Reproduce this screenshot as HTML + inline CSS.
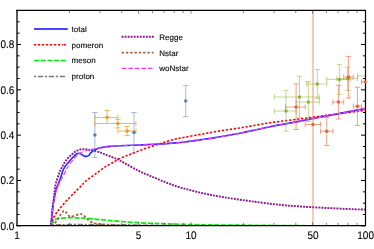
<!DOCTYPE html>
<html><head><meta charset="utf-8"><title>plot</title>
<style>
html,body{margin:0;padding:0;background:#fff;}
body{width:374px;height:249px;overflow:hidden;position:relative;font-family:"Liberation Sans",sans-serif;}
svg text{font-family:"Liberation Sans",sans-serif;text-rendering:geometricPrecision;}
</style></head><body>
<svg width="374" height="249" viewBox="0 0 374 249" style="position:absolute;left:0;top:0">
<defs><filter id="gs" x="-5%" y="-20%" width="110%" height="140%" color-interpolation-filters="sRGB"><feColorMatrix type="matrix" values="0.333 0.334 0.333 0 0 0.333 0.334 0.333 0 0 0.333 0.334 0.333 0 0 0 0 0 1 0"/></filter><clipPath id="cp"><rect x="16.90" y="10.45" width="349.50" height="215.65"/></clipPath></defs>
<rect width="374" height="249" fill="#fff"/>
<g clip-path="url(#cp)" fill="none" stroke-linecap="butt" stroke-linejoin="round">
<path d="M50.90 225.30 C51.05 224.97 51.25 224.75 51.80 223.30 C52.35 221.85 53.17 218.68 54.20 216.60 C55.23 214.52 56.87 212.38 58.00 210.80 C59.13 209.22 59.46 208.92 61.00 207.10 C62.54 205.28 65.08 202.23 67.25 199.90 C69.42 197.57 72.26 194.85 74.00 193.10 C75.74 191.35 76.42 190.68 77.70 189.40 C78.98 188.12 80.53 186.65 81.70 185.40 C82.87 184.15 83.40 183.10 84.70 181.90 C86.00 180.70 87.88 179.38 89.50 178.20 C91.12 177.02 92.82 175.95 94.40 174.80 C95.98 173.65 97.40 172.50 99.00 171.30 C100.60 170.10 102.33 168.72 104.00 167.60 C105.67 166.48 107.33 165.56 109.00 164.60 C110.67 163.64 112.30 162.82 114.00 161.85 C115.70 160.88 117.20 159.79 119.20 158.80 C121.20 157.81 124.20 156.63 126.00 155.90 C127.80 155.17 127.33 155.43 130.00 154.40 C132.67 153.37 137.18 151.43 142.00 149.70 C146.82 147.97 153.42 145.75 158.90 144.00 C164.38 142.25 170.55 140.33 174.90 139.20 C179.25 138.07 180.15 138.12 185.00 137.20 C189.85 136.28 199.00 134.62 204.00 133.70 C209.00 132.78 210.98 132.37 215.00 131.70 C219.02 131.03 223.93 130.33 228.10 129.70 C232.27 129.07 235.98 128.55 240.00 127.90 C244.02 127.25 247.20 126.65 252.20 125.80 C257.20 124.95 262.03 123.95 270.00 122.80 C277.97 121.65 290.33 120.17 300.00 118.90 C309.67 117.63 317.17 116.63 328.00 115.20 C338.83 113.77 358.83 111.12 365.00 110.30" stroke="#ff0000" stroke-width="1.60" stroke-dasharray="2.3 1.7"/>
<path d="M51.00 225.50 C51.13 225.30 51.27 225.15 51.80 224.30 C52.33 223.45 53.40 221.28 54.20 220.40 C55.00 219.52 55.57 219.35 56.60 219.00 C57.63 218.65 59.00 218.48 60.40 218.30 C61.80 218.12 63.40 218.00 65.00 217.90 C66.60 217.80 68.17 217.72 70.00 217.70 C71.83 217.68 74.00 217.75 76.00 217.80 C78.00 217.85 79.83 217.87 82.00 218.00 C84.17 218.13 85.30 218.27 89.00 218.60 C92.70 218.93 100.70 219.67 104.20 220.00 C107.70 220.33 107.37 220.37 110.00 220.60 C112.63 220.83 116.00 221.10 120.00 221.40 C124.00 221.70 127.67 222.03 134.00 222.40 C140.33 222.77 150.00 223.28 158.00 223.60 C166.00 223.92 175.00 224.10 182.00 224.30 C189.00 224.50 188.67 224.63 200.00 224.80 C211.33 224.97 233.33 225.15 250.00 225.30 C266.67 225.45 280.83 225.58 300.00 225.70 C319.17 225.82 354.17 225.95 365.00 226.00" stroke="#00ee00" stroke-width="1.70" stroke-dasharray="5.0 1.68"/>
<path d="M52.00 225.10 C55.00 225.02 62.00 224.70 70.00 224.60 C78.00 224.50 90.00 224.45 100.00 224.50 C110.00 224.55 116.67 224.72 130.00 224.90 C143.33 225.08 140.83 225.42 180.00 225.60 C219.17 225.78 334.17 225.93 365.00 226.00" stroke="#7a7a7a" stroke-width="1.50" stroke-dasharray="2.2 1.7 5.3 1.7"/>
<path d="M51.50 225.60 C51.95 225.30 53.20 224.82 54.20 223.80 C55.20 222.78 56.47 220.95 57.50 219.50 C58.53 218.05 59.43 216.47 60.40 215.10 C61.37 213.73 62.63 212.02 63.30 211.30 C63.97 210.58 64.03 210.77 64.40 210.80 C64.77 210.83 65.12 211.10 65.50 211.50 C65.88 211.90 66.18 212.52 66.70 213.20 C67.22 213.88 67.88 215.00 68.60 215.60 C69.32 216.20 69.95 216.80 71.00 216.80 C72.05 216.80 73.45 216.08 74.90 215.60 C76.35 215.12 78.60 214.15 79.70 213.90 C80.80 213.65 80.82 213.83 81.50 214.10 C82.18 214.37 83.07 214.93 83.80 215.50 C84.53 216.07 85.07 216.68 85.90 217.50 C86.73 218.32 87.67 219.56 88.80 220.40 C89.93 221.24 91.42 222.02 92.70 222.55 C93.98 223.08 95.15 223.31 96.50 223.60 C97.85 223.89 98.88 224.07 100.80 224.30 C102.72 224.53 104.80 224.78 108.00 225.00 C111.20 225.22 111.33 225.43 120.00 225.60 C128.67 225.77 119.17 225.93 160.00 226.00 C200.83 226.07 330.83 226.00 365.00 226.00" stroke="#a2683a" stroke-width="1.80" stroke-dasharray="2.4 1.9"/>
<path d="M50.90 225.30 C50.98 224.38 51.13 222.68 51.40 219.80 C51.67 216.92 52.07 211.77 52.50 208.00 C52.93 204.23 53.63 200.23 54.00 197.20 C54.37 194.17 54.37 192.18 54.70 189.80 C55.03 187.42 55.28 185.57 56.00 182.90 C56.72 180.23 58.27 175.90 59.00 173.80 C59.73 171.70 59.90 171.40 60.40 170.30 C60.90 169.20 61.27 168.57 62.00 167.20 C62.73 165.83 63.80 163.63 64.80 162.10 C65.80 160.57 66.80 159.32 68.00 158.00 C69.20 156.68 70.67 155.33 72.00 154.20 C73.33 153.07 74.67 151.98 76.00 151.20 C77.33 150.42 78.67 149.83 80.00 149.50 C81.33 149.17 82.67 149.18 84.00 149.20 C85.33 149.22 86.67 149.42 88.00 149.60 C89.33 149.78 90.65 150.03 92.00 150.30 C93.35 150.57 94.75 150.85 96.10 151.20 C97.45 151.55 99.12 152.07 100.10 152.40 C101.08 152.73 101.18 152.87 102.00 153.20 C102.82 153.53 103.22 153.70 105.00 154.40 C106.78 155.10 110.20 156.37 112.70 157.40 C115.20 158.43 115.88 158.47 120.00 160.60 C124.12 162.73 131.60 167.33 137.40 170.20 C143.20 173.07 149.02 175.37 154.80 177.80 C160.58 180.23 166.32 182.77 172.10 184.80 C177.88 186.83 183.70 188.45 189.50 190.00 C195.30 191.55 201.10 192.88 206.90 194.10 C212.70 195.32 217.12 196.13 224.30 197.30 C231.48 198.47 239.55 199.73 250.00 201.10 C260.45 202.47 272.50 204.27 287.00 205.50 C301.50 206.73 324.00 207.82 337.00 208.50 C350.00 209.18 360.33 209.42 365.00 209.60" stroke="#8a168a" stroke-width="1.90" stroke-dasharray="1.9 1.13"/>
<path d="M51.00 225.30 C51.10 224.38 51.32 222.68 51.60 219.80 C51.88 216.92 52.23 211.77 52.70 208.00 C53.17 204.23 53.83 200.23 54.40 197.20 C54.97 194.17 55.15 192.78 56.10 189.80 C57.05 186.82 59.02 182.37 60.10 179.30 C61.18 176.23 61.95 173.20 62.60 171.40 C63.25 169.60 63.57 169.37 64.00 168.50 C64.43 167.63 64.48 167.20 65.20 166.20 C65.92 165.20 67.17 163.82 68.30 162.50 C69.43 161.18 70.98 159.42 72.00 158.30 C73.02 157.18 73.60 156.55 74.40 155.80 C75.20 155.05 76.00 154.22 76.80 153.80 C77.60 153.38 78.40 153.18 79.20 153.30 C80.00 153.42 80.80 154.07 81.60 154.50 C82.40 154.93 83.20 155.58 84.00 155.90 C84.80 156.22 85.60 156.50 86.40 156.40 C87.20 156.30 88.00 155.97 88.80 155.30 C89.60 154.63 90.38 153.22 91.20 152.40 C92.02 151.58 92.88 150.93 93.70 150.40 C94.52 149.87 95.17 149.60 96.10 149.20 C97.03 148.80 98.32 148.28 99.30 148.00 C100.28 147.72 101.05 147.68 102.00 147.50 C102.95 147.32 103.67 147.08 105.00 146.90 C106.33 146.72 107.50 146.60 110.00 146.40 C112.50 146.20 114.67 145.95 120.00 145.70 C125.33 145.45 135.33 145.18 142.00 144.90 C148.67 144.62 155.00 144.30 160.00 144.00 C165.00 143.70 167.83 143.43 172.00 143.10 C176.17 142.77 179.67 142.63 185.00 142.00 C190.33 141.37 199.00 140.03 204.00 139.30 C209.00 138.58 211.00 138.30 215.00 137.65 C219.00 137.00 223.83 136.14 228.00 135.40 C232.17 134.66 235.97 134.00 240.00 133.20 C244.03 132.40 247.20 131.68 252.20 130.60 C257.20 129.52 262.03 128.28 270.00 126.70 C277.97 125.12 290.33 122.98 300.00 121.15 C309.67 119.32 317.17 117.81 328.00 115.70 C338.83 113.59 358.83 109.70 365.00 108.50" stroke="#2a2aff" stroke-width="1.60"/>
<path d="M51.10 225.30 C51.20 224.38 51.40 222.68 51.70 219.80 C52.00 216.92 52.38 211.77 52.90 208.00 C53.42 204.23 54.08 200.58 54.80 197.20 C55.52 193.82 56.00 190.90 57.20 187.70 C58.40 184.50 60.47 181.02 62.00 178.00 C63.53 174.98 65.40 171.52 66.40 169.60 C67.40 167.68 67.07 167.93 68.00 166.50 C68.93 165.07 70.67 162.72 72.00 161.00 C73.33 159.28 74.67 157.50 76.00 156.20 C77.33 154.90 78.67 154.03 80.00 153.20 C81.33 152.37 82.67 151.73 84.00 151.20 C85.33 150.67 86.67 150.33 88.00 150.00 C89.33 149.67 90.65 149.47 92.00 149.20 C93.35 148.93 94.88 148.60 96.10 148.40 C97.32 148.20 98.32 148.15 99.30 148.00 C100.28 147.85 101.05 147.68 102.00 147.50 C102.95 147.32 103.67 147.08 105.00 146.90 C106.33 146.72 107.50 146.60 110.00 146.40 C112.50 146.20 114.67 145.95 120.00 145.70 C125.33 145.45 135.33 145.18 142.00 144.90 C148.67 144.62 155.00 144.30 160.00 144.00 C165.00 143.70 167.83 143.43 172.00 143.10 C176.17 142.77 179.67 142.63 185.00 142.00 C190.33 141.37 199.00 140.03 204.00 139.30 C209.00 138.58 211.00 138.30 215.00 137.65 C219.00 137.00 223.83 136.14 228.00 135.40 C232.17 134.66 235.97 134.00 240.00 133.20 C244.03 132.40 247.20 131.68 252.20 130.60 C257.20 129.52 262.03 128.28 270.00 126.70 C277.97 125.12 290.33 122.98 300.00 121.15 C309.67 119.32 317.17 117.81 328.00 115.70 C338.83 113.59 358.83 109.70 365.00 108.50" stroke="#f838ff" stroke-width="1.20" stroke-dasharray="4.45 2.1"/>
</g>
<line x1="313.0" y1="10.45" x2="313.0" y2="225.60" stroke="#EB6235" stroke-opacity="0.37" stroke-width="1.9"/>
<g fill="none" stroke-width="1.0">
<path d="M94.85 112.50 V157.35 M92.15 112.50 H97.55 M92.15 157.35 H97.55" stroke="#5E81B5" stroke-opacity="0.55"/>
<path d="M133.95 112.50 V153.10 M131.25 112.50 H136.65 M131.25 153.10 H136.65" stroke="#5E81B5" stroke-opacity="0.55"/>
<path d="M185.70 85.40 V116.70 M183.00 85.40 H188.40 M183.00 116.70 H188.40" stroke="#5E81B5" stroke-opacity="0.55"/>
<path d="M94.90 117.42 H117.90 M94.90 114.72 V120.12 M117.90 114.72 V120.12" stroke="#E19C24" stroke-opacity="0.70"/>
<path d="M107.10 110.45 V123.40 M104.40 110.45 H109.80" stroke="#E19C24" stroke-opacity="0.70"/>
<path d="M94.90 123.50 H135.90 M94.90 120.80 V126.20 M135.90 120.80 V126.20" stroke="#E19C24" stroke-opacity="0.70"/>
<path d="M117.80 119.30 V127.90 M115.10 119.30 H120.50 M115.10 127.90 H120.50" stroke="#E19C24" stroke-opacity="0.70"/>
<path d="M117.90 131.00 H136.00 M117.90 128.30 V133.70 M136.00 128.30 V133.70" stroke="#E19C24" stroke-opacity="0.70"/>
<path d="M127.10 126.50 V135.60 M124.40 126.50 H129.80 M124.40 135.60 H129.80" stroke="#E19C24" stroke-opacity="0.70"/>
<path d="M274.40 111.00 H296.10 M274.40 108.30 V113.70 M296.10 108.30 V113.70" stroke="#8FB032" stroke-opacity="0.52"/>
<path d="M286.00 90.40 V131.20 M283.30 90.40 H288.70 M283.30 131.20 H288.70" stroke="#8FB032" stroke-opacity="0.52"/>
<path d="M274.40 97.00 H319.30 M274.40 94.30 V99.70 M319.30 94.30 V99.70" stroke="#8FB032" stroke-opacity="0.52"/>
<path d="M299.50 76.30 V117.30 M296.80 76.30 H302.20 M296.80 117.30 H302.20" stroke="#8FB032" stroke-opacity="0.52"/>
<path d="M296.10 102.00 H319.30 M296.10 99.30 V104.70 M319.30 99.30 V104.70" stroke="#8FB032" stroke-opacity="0.52"/>
<path d="M308.40 81.50 V121.60 M305.70 81.50 H311.10 M305.70 121.60 H311.10" stroke="#8FB032" stroke-opacity="0.52"/>
<path d="M306.50 84.00 H326.80 M306.50 81.30 V86.70 M326.80 81.30 V86.70" stroke="#8FB032" stroke-opacity="0.52"/>
<path d="M317.30 69.60 V98.40 M314.60 69.60 H320.00 M314.60 98.40 H320.00" stroke="#8FB032" stroke-opacity="0.52"/>
<path d="M326.70 79.40 H350.70 M326.70 76.70 V82.10 M350.70 76.70 V82.10" stroke="#8FB032" stroke-opacity="0.52"/>
<path d="M339.40 64.40 V94.40 M336.70 64.40 H342.10 M336.70 94.40 H342.10" stroke="#8FB032" stroke-opacity="0.52"/>
<path d="M336.80 78.70 H357.50 M336.80 76.00 V81.40 M357.50 76.00 V81.40" stroke="#8FB032" stroke-opacity="0.52"/>
<path d="M347.60 67.30 V90.40 M344.90 67.30 H350.30 M344.90 90.40 H350.30" stroke="#8FB032" stroke-opacity="0.52"/>
<path d="M285.60 107.05 H305.30 M285.60 104.35 V109.75 M305.30 104.35 V109.75" stroke="#EB6235" stroke-opacity="0.60"/>
<path d="M296.10 84.00 V129.50 M293.40 84.00 H298.80 M293.40 129.50 H298.80" stroke="#EB6235" stroke-opacity="0.60"/>
<path d="M305.20 124.50 H320.55 M305.20 121.80 V127.20 M320.55 121.80 V127.20" stroke="#EB6235" stroke-opacity="0.60"/>
<path d="M320.50 131.20 H333.00 M320.50 128.50 V133.90 M333.00 128.50 V133.90" stroke="#EB6235" stroke-opacity="0.60"/>
<path d="M326.70 117.40 V145.40 M324.00 117.40 H329.40 M324.00 145.40 H329.40" stroke="#EB6235" stroke-opacity="0.60"/>
<path d="M343.70 77.10 H353.20 M343.70 74.40 V79.80 M353.20 74.40 V79.80" stroke="#EB6235" stroke-opacity="0.60"/>
<path d="M348.40 56.40 V98.00 M345.70 56.40 H351.10 M345.70 98.00 H351.10" stroke="#EB6235" stroke-opacity="0.60"/>
<path d="M332.80 102.10 H343.70 M332.80 99.40 V104.80 M343.70 99.40 V104.80" stroke="#EB6235" stroke-opacity="0.60"/>
<path d="M338.40 85.30 V119.00 M335.70 85.30 H341.10 M335.70 119.00 H341.10" stroke="#EB6235" stroke-opacity="0.60"/>
<path d="M353.30 106.20 H361.60 M353.30 103.50 V108.90 M361.60 103.50 V108.90" stroke="#EB6235" stroke-opacity="0.60"/>
<path d="M357.40 87.20 V125.40 M354.70 87.20 H360.10 M354.70 125.40 H360.10" stroke="#EB6235" stroke-opacity="0.60"/>
<path d="M357.5 75.9 H366.5 M357.5 73.2 V78.6" stroke="#8FB032" stroke-opacity="0.55"/>
<path d="M361.5 81.8 H366 M361.5 79.2 V84.4" stroke="#EB6235" stroke-opacity="0.7"/>
</g>
<circle cx="94.85" cy="134.90" r="1.75" fill="#5E81B5"/>
<circle cx="133.95" cy="132.50" r="1.75" fill="#5E81B5"/>
<circle cx="185.70" cy="101.00" r="1.75" fill="#5E81B5"/>
<circle cx="107.10" cy="117.42" r="1.75" fill="#E19C24"/>
<circle cx="117.80" cy="123.50" r="1.75" fill="#E19C24"/>
<circle cx="127.10" cy="131.00" r="1.75" fill="#E19C24"/>
<circle cx="286.00" cy="111.00" r="1.75" fill="#8FB032"/>
<circle cx="299.50" cy="97.00" r="1.75" fill="#8FB032"/>
<circle cx="308.40" cy="102.00" r="1.75" fill="#8FB032"/>
<circle cx="317.30" cy="84.00" r="1.75" fill="#8FB032"/>
<circle cx="339.40" cy="79.40" r="1.75" fill="#8FB032"/>
<circle cx="347.60" cy="78.70" r="1.75" fill="#8FB032"/>
<circle cx="296.10" cy="107.05" r="1.75" fill="#EB6235"/>
<circle cx="312.95" cy="124.50" r="1.75" fill="#EB6235"/>
<circle cx="326.70" cy="131.20" r="1.75" fill="#EB6235"/>
<circle cx="348.40" cy="77.10" r="1.75" fill="#EB6235"/>
<circle cx="338.40" cy="102.10" r="1.75" fill="#EB6235"/>
<circle cx="357.40" cy="106.20" r="1.75" fill="#EB6235"/>
<g stroke="#000" fill="none">
<path d="M16.10 10.45 H365.90 M16.10 225.60 H365.90" stroke-width="1.2"/>
<path d="M17.00 10.45 V225.60" stroke-width="1.3"/>
<path d="M365.50 10.45 V225.60" stroke-width="1.2"/>
<path d="M17.00 225.83 h4.00 M365.50 225.83 h-4.50 M17.00 214.50 h2.60 M365.50 214.50 h-2.60 M17.00 203.16 h2.60 M365.50 203.16 h-2.60 M17.00 191.83 h2.60 M365.50 191.83 h-2.60 M17.00 180.50 h4.00 M365.50 180.50 h-4.50 M17.00 169.16 h2.60 M365.50 169.16 h-2.60 M17.00 157.83 h2.60 M365.50 157.83 h-2.60 M17.00 146.50 h2.60 M365.50 146.50 h-2.60 M17.00 135.16 h4.00 M365.50 135.16 h-4.50 M17.00 123.83 h2.60 M365.50 123.83 h-2.60 M17.00 112.50 h2.60 M365.50 112.50 h-2.60 M17.00 101.16 h2.60 M365.50 101.16 h-2.60 M17.00 89.83 h4.00 M365.50 89.83 h-4.50 M17.00 78.49 h2.60 M365.50 78.49 h-2.60 M17.00 67.16 h2.60 M365.50 67.16 h-2.60 M17.00 55.83 h2.60 M365.50 55.83 h-2.60 M17.00 44.49 h4.00 M365.50 44.49 h-4.50 M17.00 33.16 h2.60 M365.50 33.16 h-2.60 M17.00 21.83 h2.60 M365.50 21.83 h-2.60 " stroke-width="1.0"/>
</g>
<path d="M17.00 10.45 v3.40 M17.00 225.60 v-3.40 M69.38 10.45 v2.80 M69.38 225.60 v-2.80 M100.02 10.45 v2.80 M100.02 225.60 v-2.80 M121.76 10.45 v2.80 M121.76 225.60 v-2.80 M138.62 10.45 v3.40 M138.62 225.60 v-3.40 M152.40 10.45 v2.80 M152.40 225.60 v-2.80 M164.05 10.45 v2.80 M164.05 225.60 v-2.80 M174.14 10.45 v2.80 M174.14 225.60 v-2.80 M183.04 10.45 v2.80 M183.04 225.60 v-2.80 M191.00 10.45 v3.40 M191.00 225.60 v-3.40 M243.38 10.45 v2.80 M243.38 225.60 v-2.80 M274.02 10.45 v2.80 M274.02 225.60 v-2.80 M295.76 10.45 v2.80 M295.76 225.60 v-2.80 M312.62 10.45 v3.40 M312.62 225.60 v-3.40 M326.40 10.45 v2.80 M326.40 225.60 v-2.80 M338.05 10.45 v2.80 M338.05 225.60 v-2.80 M348.14 10.45 v2.80 M348.14 225.60 v-2.80 M357.04 10.45 v2.80 M357.04 225.60 v-2.80 " stroke="#444" stroke-width="0.65" fill="none"/>
<circle cx="365.2" cy="81.8" r="1.5" fill="#EB6235"/>
<line x1="34.00" y1="29.00" x2="67.80" y2="29.00" stroke="#4646ff" stroke-width="1.82"/>
<text filter="url(#gs)" x="71.60" y="31.85" font-size="8" fill="#000" stroke="#000" stroke-width="0.12">total</text>
<line x1="33.90" y1="44.70" x2="62.90" y2="44.70" stroke="#ff0000" stroke-width="1.55" stroke-dasharray="2.3 1.7"/>
<text filter="url(#gs)" x="71.60" y="47.60" font-size="8" fill="#000" stroke="#000" stroke-width="0.12">pomeron</text>
<line x1="34.00" y1="60.50" x2="66.00" y2="60.50" stroke="#00ee00" stroke-width="1.70" stroke-dasharray="5.0 1.68"/>
<text filter="url(#gs)" x="71.60" y="63.40" font-size="8" fill="#000" stroke="#000" stroke-width="0.12">meson</text>
<line x1="34.00" y1="76.40" x2="65.00" y2="76.40" stroke="#7a7a7a" stroke-width="1.50" stroke-dasharray="2.2 1.7 5.3 1.7"/>
<text filter="url(#gs)" x="71.60" y="79.30" font-size="8" fill="#000" stroke="#000" stroke-width="0.12">proton</text>
<line x1="121.60" y1="36.70" x2="153.90" y2="36.70" stroke="#8a168a" stroke-width="1.90" stroke-dasharray="1.9 1.13"/>
<text filter="url(#gs)" x="159.30" y="39.60" font-size="8" fill="#000" stroke="#000" stroke-width="0.12">Regge</text>
<line x1="121.60" y1="52.70" x2="153.60" y2="52.70" stroke="#a2683a" stroke-width="1.80" stroke-dasharray="2.4 1.9"/>
<text filter="url(#gs)" x="159.30" y="55.60" font-size="8" fill="#000" stroke="#000" stroke-width="0.12">Nstar</text>
<line x1="121.80" y1="68.40" x2="153.00" y2="68.40" stroke="#ff30ff" stroke-width="1.30" stroke-dasharray="4.45 2.1"/>
<text filter="url(#gs)" x="159.30" y="71.30" font-size="8" fill="#000" stroke="#000" stroke-width="0.12">woNstar</text>
<line x1="63.8" y1="44.7" x2="65.9" y2="44.7" stroke="#ff0000" stroke-width="1.55"/>
<text filter="url(#gs)" transform="translate(14.4 229.73) scale(1 1.1)" x="0" y="0" font-size="10" text-anchor="end" fill="#000" stroke="#000" stroke-width="0.1">0.0</text>
<text filter="url(#gs)" transform="translate(14.4 184.40) scale(1 1.1)" x="0" y="0" font-size="10" text-anchor="end" fill="#000" stroke="#000" stroke-width="0.1">0.2</text>
<text filter="url(#gs)" transform="translate(14.4 139.06) scale(1 1.1)" x="0" y="0" font-size="10" text-anchor="end" fill="#000" stroke="#000" stroke-width="0.1">0.4</text>
<text filter="url(#gs)" transform="translate(14.4 93.73) scale(1 1.1)" x="0" y="0" font-size="10" text-anchor="end" fill="#000" stroke="#000" stroke-width="0.1">0.6</text>
<text filter="url(#gs)" transform="translate(14.4 48.39) scale(1 1.1)" x="0" y="0" font-size="10" text-anchor="end" fill="#000" stroke="#000" stroke-width="0.1">0.8</text>
<text filter="url(#gs)" transform="translate(17.00 238.7) scale(1 1.1)" x="0" y="0" font-size="10" text-anchor="middle" fill="#000" stroke="#000" stroke-width="0.1">1</text>
<text filter="url(#gs)" transform="translate(138.62 238.7) scale(1 1.1)" x="0" y="0" font-size="10" text-anchor="middle" fill="#000" stroke="#000" stroke-width="0.1">5</text>
<text filter="url(#gs)" transform="translate(191.00 238.7) scale(1 1.1)" x="0" y="0" font-size="10" text-anchor="middle" fill="#000" stroke="#000" stroke-width="0.1">10</text>
<text filter="url(#gs)" transform="translate(313.12 238.7) scale(1 1.1)" x="0" y="0" font-size="10" text-anchor="middle" fill="#000" stroke="#000" stroke-width="0.1">50</text>
<text filter="url(#gs)" transform="translate(365.60 238.7) scale(1 1.1)" x="0" y="0" font-size="10" text-anchor="middle" fill="#000" stroke="#000" stroke-width="0.1">100</text>
</svg>
</body></html>
